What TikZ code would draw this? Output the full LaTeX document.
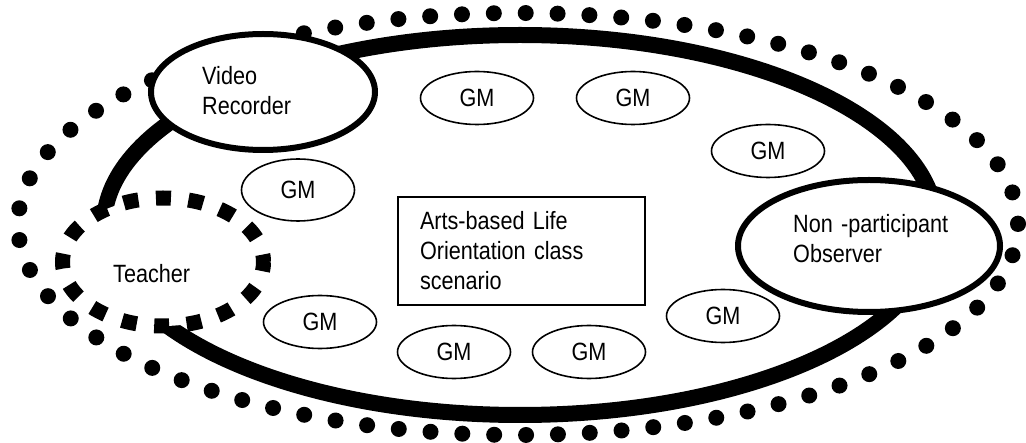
\documentclass[tikz,border=0pt]{standalone}
\usepackage{fontspec}
\setmainfont{Liberation Sans}[FakeStretch=0.865]
\usetikzlibrary{shapes.geometric}

\begin{document}
\begin{tikzpicture}[x=1pt,y=-1pt,font=\fontsize{25}{30}\selectfont,
	gm/.style={draw,ellipse,line width=1.6pt,minimum width=113pt,minimum height=53pt,inner sep=0pt},
	role/.style={draw,ellipse,fill=white,line width=6pt,inner sep=0pt},
	lbl/.style={anchor=base west,align=left,inner sep=0pt,text width=160pt}]
	
	%----------------------
	% Parameters
	%----------------------
	\def\dotgap{31.875pt}   % 73 dots round the outer ring
	\def\dashgap{17.59pt}   % 16 dashes round the teacher
	
	\useasboundingbox (0,0) rectangle (1026,443);
	
	% Outer ring (dots)
	\draw[line width=16pt,line cap=round,dash pattern=on 0pt off \dotgap]
	(518,224) ellipse [x radius=500,y radius=211];
	
	% Classroom (thick ring)
	\draw[line width=16pt] (520,225) ellipse [x radius=416,y radius=190];
	
	% Group members
	\node[gm] (gm1) at (477,98) {GM};
	\node[gm] (gm2) at (633,98) {GM};
	\node[gm] (gm3) at (768,151) {GM};
	\node[gm,minimum height=62pt] (gm4) at (298,190) {GM};
	\node[gm] (gm5) at (320,322) {GM};
	\node[gm] (gm6) at (454,352) {GM};
	\node[gm] (gm7) at (589,352) {GM};
	\node[gm] (gm8) at (723,316) {GM};
	
	% Scenario box
	\node[draw,line width=1.5pt,minimum width=247pt,minimum height=108pt,
	text width=203pt,inner xsep=22pt,inner ysep=0pt,align=left]
	(scene) at (521.5,251) {Arts-based Life\\Orientation class\\scenario};
	
	%----------------------
	% Roles
	%----------------------
	\node[role,minimum width=224pt,minimum height=116pt] (vr) at (263,92) {};
	\node[role,line width=15pt,dash pattern=on 15pt off \dashgap,dash phase=7.5pt,
	minimum width=201pt,minimum height=128pt] (teacher) at (163,262) {};
	\node[role,minimum width=262pt,minimum height=132pt] (obs) at (869,246) {};
	
	\node[lbl] (vrtext) at (202,85) {Video\\Recorder};
	\node[lbl] (teachertext) at (113,283) {Teacher};
	\node[lbl] (obstext) at (793,233) {Non -participant\\Observer};
	
\end{tikzpicture}
\end{document}
